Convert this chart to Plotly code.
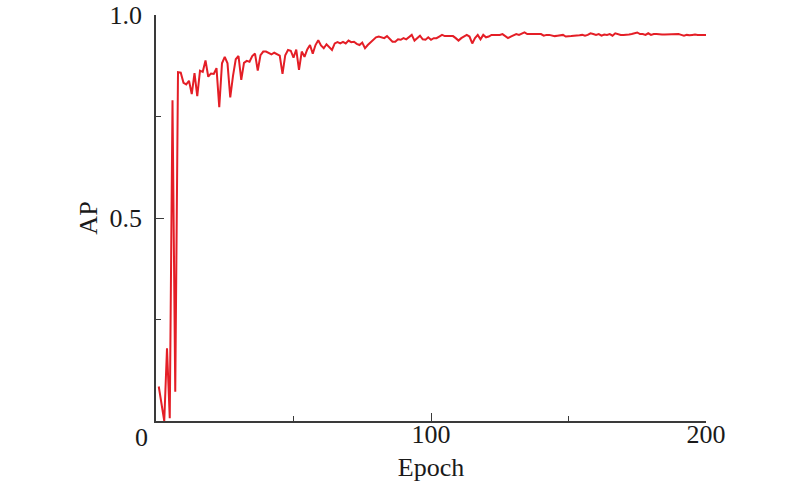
import plotly.graph_objects as go

epochs = list(range(1, 201))
ap = [
    0.085, 0.040, 0.000, 0.179, 0.007, 0.790, 0.072, 0.859, 0.858, 0.833,
    0.829, 0.838, 0.805, 0.857, 0.800, 0.863, 0.860, 0.888, 0.848, 0.856,
    0.855, 0.869, 0.773, 0.881, 0.897, 0.881, 0.797, 0.850, 0.891, 0.899,
    0.840, 0.882, 0.887, 0.885, 0.899, 0.905, 0.863, 0.901, 0.910, 0.910,
    0.906, 0.903, 0.907, 0.904, 0.900, 0.855, 0.901, 0.914, 0.912, 0.895,
    0.915, 0.865, 0.910, 0.897, 0.915, 0.926, 0.905, 0.926, 0.938, 0.925,
    0.918, 0.928, 0.922, 0.914, 0.930, 0.933, 0.930, 0.934, 0.930, 0.937,
    0.933, 0.934, 0.929, 0.926, 0.932, 0.918, 0.926, 0.932, 0.940, 0.945,
    0.947, 0.945, 0.943, 0.948, 0.940, 0.934, 0.934, 0.940, 0.939, 0.943,
    0.940, 0.945, 0.951, 0.937, 0.943, 0.949, 0.940, 0.939, 0.945, 0.939,
    0.943, 0.943, 0.947, 0.951, 0.948, 0.948, 0.947, 0.948, 0.943, 0.937,
    0.943, 0.948, 0.951, 0.947, 0.930, 0.943, 0.951, 0.940, 0.951, 0.945,
    0.947, 0.951, 0.951, 0.951, 0.951, 0.953, 0.949, 0.943, 0.947, 0.951,
    0.953, 0.951, 0.955, 0.957, 0.953, 0.953, 0.953, 0.953, 0.953, 0.953,
    0.949, 0.951, 0.951, 0.949, 0.948, 0.949, 0.950, 0.951, 0.947, 0.947,
    0.948, 0.949, 0.949, 0.950, 0.951, 0.949, 0.951, 0.955, 0.953, 0.951,
    0.953, 0.949, 0.952, 0.951, 0.953, 0.949, 0.955, 0.953, 0.951, 0.951,
    0.951, 0.952, 0.953, 0.955, 0.957, 0.953, 0.953, 0.951, 0.955, 0.951,
    0.953, 0.953, 0.952, 0.952, 0.952, 0.952, 0.952, 0.953, 0.952, 0.953,
    0.951, 0.949, 0.951, 0.950, 0.951, 0.952, 0.951, 0.951, 0.951, 0.951,
]

x_tickvals = [100, 200]
x_ticktext = ["100", "200"]
y_tickvals = [0.5, 1.0]
y_ticktext = ["0.5", "1.0"]

FONT = "Liberation Serif, Times New Roman, serif"
AXIS_COLOR = "#3a3a3a"
TEXT_COLOR = "#1a1a1a"

fig = go.Figure()
fig.add_trace(go.Scatter(
    x=epochs, y=ap, mode="lines",
    line=dict(color="rgb(228,30,38)", width=2),
    showlegend=False,
))

fig.update_layout(
    width=800, height=495,
    margin=dict(l=156, r=94, t=15, b=74, autoexpand=False),
    paper_bgcolor="white", plot_bgcolor="white",
    font=dict(family=FONT, size=26, color=TEXT_COLOR),
    xaxis=dict(
        range=[0, 200], showgrid=False, zeroline=False, automargin=False,
        showline=True, linecolor=AXIS_COLOR, linewidth=1.6,
        ticks="inside", ticklen=8, tickwidth=1.4, tickcolor=AXIS_COLOR,
        tickvals=x_tickvals, ticktext=x_ticktext, ticklabelstandoff=-11,
        ticklabeloverflow="allow",
        minor=dict(tickvals=[50, 150], ticks="inside", ticklen=5,
                   tickwidth=1.4, tickcolor=AXIS_COLOR),
        title=dict(text="Epoch", standoff=10, font=dict(size=26)),
    ),
    yaxis=dict(
        range=[0, 1.0], showgrid=False, zeroline=False, automargin=False,
        showline=True, linecolor=AXIS_COLOR, linewidth=1.6,
        ticks="inside", ticklen=8, tickwidth=1.4, tickcolor=AXIS_COLOR,
        tickvals=y_tickvals, ticktext=y_ticktext, ticklabelstandoff=7,
        ticklabeloverflow="allow",
        minor=dict(tickvals=[0.25, 0.75], ticks="inside", ticklen=5,
                   tickwidth=1.4, tickcolor=AXIS_COLOR),
        title=dict(text="AP", standoff=4, font=dict(size=26)),
    ),
)

fig.add_annotation(
    text="0", xref="paper", yref="paper", x=-0.027, y=0,
    xanchor="center", yanchor="middle", yshift=-16, showarrow=False,
    font=dict(family=FONT, size=26, color=TEXT_COLOR),
)

fig.write_html(
    "out.html",
    config={"displayModeBar": False},
    post_script="document.body.style.margin='0px';",
)
